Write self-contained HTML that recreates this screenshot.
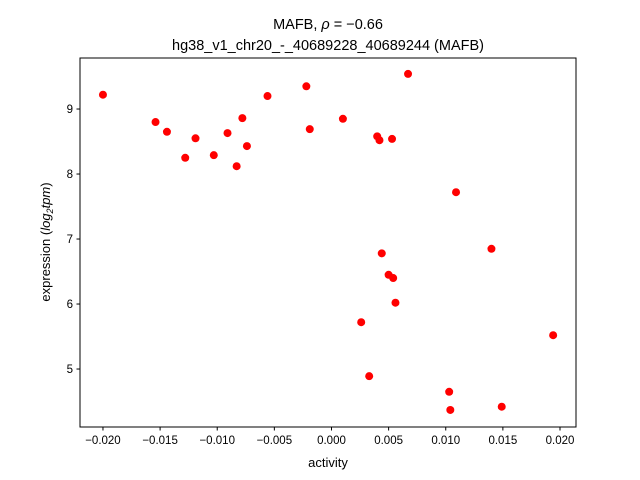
<!DOCTYPE html>
<html><head><meta charset="utf-8">
<style>
body{margin:0;background:#fff;}
svg{display:block;font-family:"Liberation Sans","DejaVu Sans",sans-serif;}
</style></head>
<body>
<svg id="chart" width="640" height="480" viewBox="0 0 640 480">
<rect width="640" height="480" fill="#fff"/>
<text x="328" y="29" text-anchor="middle" font-size="14.5">MAFB, <tspan font-style="italic">ρ</tspan> = −0.66</text>
<text x="328" y="50" text-anchor="middle" font-size="14.5">hg38_v1_chr20_-_40689228_40689244 (MAFB)</text>
<g id="marks"></g>
<rect x="80" y="58" width="496" height="369" fill="none" stroke="#000" stroke-width="1"/>
<g id="xt"></g><g id="yt"></g>
<text x="328" y="467" text-anchor="middle" font-size="13">activity</text>
<text transform="translate(50,242) rotate(-90)" text-anchor="middle" font-size="13">expression (<tspan font-style="italic">log</tspan><tspan font-style="italic" font-size="9" dy="3">2</tspan><tspan font-style="italic" dy="-3">tpm</tspan>)</text>
</svg>
<script>
const activity=[-0.0200,-0.0154,-0.0144,-0.0128,-0.0119,-0.0103,-0.0091,-0.0078,-0.0083,-0.0074,-0.0056,-0.0022,-0.0019,0.0010,0.0040,0.0042,0.0053,0.0067,0.0109,0.0140,0.0044,0.0050,0.0054,0.0056,0.0026,0.0033,0.0194,0.0103,0.0104,0.0149];
const expression=[9.22,8.80,8.65,8.25,8.55,8.29,8.63,8.86,8.12,8.43,9.20,9.35,8.69,8.85,8.58,8.52,8.54,9.54,7.72,6.85,6.78,6.45,6.40,6.02,5.72,4.89,5.52,4.65,4.37,4.42];
const xTicks=[-0.020,-0.015,-0.010,-0.005,0.000,0.005,0.010,0.015,0.020];
const xTickLabels=["−0.020","−0.015","−0.010","−0.005","0.000","0.005","0.010","0.015","0.020"];
const yTicks=[5,6,7,8,9];
const yTickLabels=["5","6","7","8","9"];
const NS="http://www.w3.org/2000/svg";
const xMin=-0.02201,xMax=0.0214,yMin=4.108,yMax=9.785;
const L=80,R=576,T=58,B=427;
const sx=v=>L+(v-xMin)/(xMax-xMin)*(R-L);
const sy=v=>B-(v-yMin)/(yMax-yMin)*(B-T);
function mk(tag,attrs,parent){const e=document.createElementNS(NS,tag);for(const k in attrs)e.setAttribute(k,attrs[k]);parent.appendChild(e);return e;}
const marks=document.getElementById('marks');
activity.forEach((a,i)=>{
  const c=mk('circle',{cx:sx(a),cy:sy(expression[i]),r:4,fill:'#ff0000'},marks);
  
  
});
const xt=document.getElementById('xt');
xTicks.forEach((t,i)=>{
  const x=sx(t);
  const l=mk('line',{x1:x,x2:x,y1:B,y2:B+3.5,stroke:'#000'},xt);
  
  
  const tx=mk('text',{x:x,y:B+17,'text-anchor':'middle','font-size':'11.5'},xt);
  tx.textContent=xTickLabels[i];
  
  
});
const yt=document.getElementById('yt');
yTicks.forEach((t,i)=>{
  const y=sy(t);
  const l=mk('line',{x1:L-3.5,x2:L,y1:y,y2:y,stroke:'#000'},yt);
  
  
  const tx=mk('text',{x:L-7,y:y+4,'text-anchor':'end','font-size':'11.5'},yt);
  tx.textContent=yTickLabels[i];
  
  
});
</script>
</body></html>
